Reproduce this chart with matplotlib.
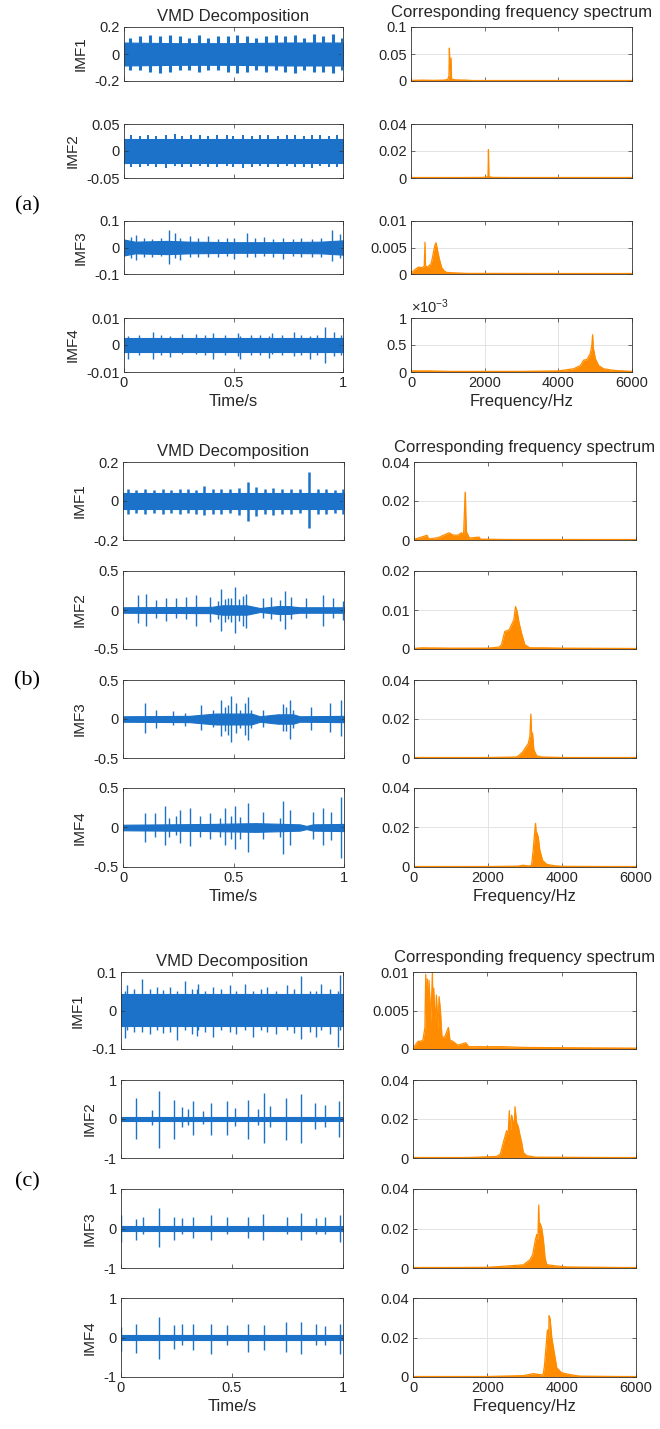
import numpy as np
import matplotlib
matplotlib.use("Agg")
import matplotlib.pyplot as plt

plt.rcParams['font.family'] = ['Liberation Sans', 'DejaVu Sans']
plt.rcParams['mathtext.fontset'] = 'custom'
plt.rcParams['mathtext.rm'] = 'Liberation Sans'
plt.rcParams['mathtext.it'] = 'Liberation Sans:italic'

# ---------------- time-domain data (band envelope + spikes) ----------------
# (a)
a1_band_t = [0, 0.25, 0.5, 0.75, 1]
a1_band_up = [0.085, 0.08, 0.08, 0.085, 0.085]
a1_band_lo = [-0.085, -0.08, -0.08, -0.085, -0.085]
a1_spk_t = [0.029, 0.072, 0.118, 0.163, 0.209, 0.255, 0.298, 0.344, 0.385, 0.431, 0.473, 0.518,
            0.560, 0.603, 0.647, 0.692, 0.736, 0.782, 0.823, 0.866, 0.908, 0.953, 0.995]
a1_spk_up = [0.12, 0.13, 0.14, 0.13, 0.14, 0.13, 0.12, 0.14, 0.12, 0.13, 0.13, 0.14,
             0.13, 0.12, 0.13, 0.14, 0.13, 0.14, 0.12, 0.15, 0.13, 0.15, 0.12]
a1_spk_lo = [-0.12, -0.12, -0.13, -0.14, -0.13, -0.12, -0.12, -0.13, -0.12, -0.12, -0.13, -0.14,
             -0.13, -0.12, -0.13, -0.12, -0.13, -0.14, -0.12, -0.13, -0.13, -0.14, -0.12]

a2_band_t = [0, 1]
a2_band_up = [0.023, 0.023]
a2_band_lo = [-0.023, -0.023]
a2_spk_t = [0.034, 0.072, 0.110, 0.148, 0.194, 0.232, 0.263, 0.308, 0.347, 0.385, 0.423, 0.469, 0.499,
            0.545, 0.583, 0.621, 0.659, 0.705, 0.743, 0.781, 0.820, 0.858, 0.896, 0.934, 0.973]
a2_spk_up = [0.029, 0.028, 0.030, 0.028, 0.029, 0.031, 0.028, 0.029, 0.030, 0.028, 0.029, 0.030, 0.028,
             0.029, 0.028, 0.030, 0.029, 0.028, 0.030, 0.029, 0.028, 0.030, 0.029, 0.028, 0.029]
a2_spk_lo = [-0.029, -0.030, -0.028, -0.029, -0.031, -0.028, -0.029, -0.030, -0.028, -0.029, -0.030, -0.028, -0.029,
             -0.031, -0.029, -0.028, -0.030, -0.029, -0.028, -0.030, -0.029, -0.031, -0.028, -0.029, -0.030]

a3_band_t = [0, 0.05, 0.2, 0.3, 0.5, 0.7, 0.9, 1]
a3_band_up = [0.03, 0.022, 0.025, 0.022, 0.02, 0.02, 0.022, 0.027]
a3_band_lo = [-0.03, -0.022, -0.025, -0.022, -0.02, -0.02, -0.022, -0.027]
a3_spk_t = [0.03, 0.056, 0.09, 0.13, 0.17, 0.206, 0.232, 0.255, 0.30, 0.34, 0.385, 0.43, 0.47, 0.50,
            0.56, 0.60, 0.64, 0.68, 0.728, 0.77, 0.81, 0.86, 0.90, 0.95, 0.988]
a3_spk_up = [0.04, 0.047, 0.035, 0.032, 0.036, 0.066, 0.054, 0.035, 0.045, 0.034, 0.044, 0.033, 0.036, 0.035,
             0.054, 0.036, 0.038, 0.033, 0.035, 0.032, 0.035, 0.033, 0.036, 0.066, 0.05]
a3_spk_lo = [-0.038, -0.049, -0.034, -0.035, -0.032, -0.061, -0.04, -0.047, -0.035, -0.036, -0.035, -0.034, -0.033, -0.043,
             -0.035, -0.034, -0.033, -0.036, -0.043, -0.033, -0.036, -0.035, -0.034, -0.052, -0.04]

a4_band_t = [0, 0.5, 1]
a4_band_up = [0.0027, 0.0027, 0.0027]
a4_band_lo = [-0.0027, -0.0027, -0.0027]
a4_spk_t = [0.02, 0.07, 0.133, 0.17, 0.209, 0.263, 0.331, 0.37, 0.408, 0.46, 0.522, 0.53, 0.58, 0.62,
            0.66, 0.675, 0.72, 0.774, 0.81, 0.85, 0.88, 0.919, 0.957, 0.99]
a4_spk_up = [0.0035, 0.0036, 0.0048, 0.0037, 0.0035, 0.0042, 0.0042, 0.0036, 0.0044, 0.0036, 0.0044, 0.0035,
             0.0037, 0.0038, 0.0035, 0.0044, 0.0036, 0.0048, 0.0037, 0.0035, 0.0038, 0.0067, 0.0048, 0.0036]
a4_spk_lo = [-0.005, -0.0037, -0.005, -0.0036, -0.0045, -0.0035, -0.0035, -0.0038, -0.005, -0.0036, -0.004, -0.005,
             -0.0037, -0.0036, -0.0048, -0.0035, -0.0038, -0.004, -0.0036, -0.005, -0.0037, -0.0067, -0.004, -0.0037]

# (b)
b1_band_t = [0, 1]
b1_band_up = [0.04, 0.04]
b1_band_lo = [-0.043, -0.043]
b1_spk_t = [0.023, 0.060, 0.101, 0.140, 0.181, 0.219, 0.256, 0.294, 0.332, 0.365, 0.407, 0.445, 0.483,
            0.525, 0.566, 0.603, 0.641, 0.679, 0.721, 0.762, 0.799, 0.842, 0.882, 0.920, 0.958, 0.995]
b1_spk_up = [0.06, 0.058, 0.062, 0.058, 0.06, 0.058, 0.06, 0.062, 0.058, 0.075, 0.06, 0.062, 0.06,
             0.065, 0.095, 0.07, 0.06, 0.065, 0.06, 0.062, 0.06, 0.147, 0.06, 0.062, 0.058, 0.06]
b1_spk_lo = [-0.065, -0.062, -0.066, -0.064, -0.065, -0.062, -0.066, -0.064, -0.065, -0.07, -0.065, -0.066, -0.064,
             -0.07, -0.105, -0.075, -0.066, -0.07, -0.065, -0.066, -0.064, -0.14, -0.066, -0.065, -0.064, -0.066]

b2_band_t = [0, 0.40, 0.45, 0.56, 0.62, 0.7, 0.75, 0.8, 1]
b2_band_up = [0.035, 0.04, 0.06, 0.06, 0.025, 0.05, 0.05, 0.035, 0.035]
b2_band_lo = [-0.035, -0.04, -0.06, -0.06, -0.025, -0.05, -0.05, -0.035, -0.035]
b2_spk_t = [0.068, 0.106, 0.151, 0.196, 0.241, 0.287, 0.332, 0.392, 0.43, 0.445, 0.46, 0.475, 0.49, 0.508,
            0.525, 0.545, 0.558, 0.633, 0.671, 0.71, 0.732, 0.762, 0.830, 0.905, 0.950, 0.995]
b2_spk_up = [0.19, 0.21, 0.13, 0.15, 0.15, 0.17, 0.19, 0.17, 0.12, 0.27, 0.14, 0.15, 0.16, 0.30,
             0.14, 0.18, 0.21, 0.15, 0.17, 0.13, 0.24, 0.17, 0.15, 0.19, 0.15, 0.12]
b2_spk_lo = [-0.17, -0.21, -0.10, -0.14, -0.10, -0.12, -0.21, -0.15, -0.12, -0.27, -0.15, -0.12, -0.16, -0.30,
             -0.14, -0.2, -0.23, -0.10, -0.12, -0.14, -0.24, -0.12, -0.10, -0.21, -0.10, -0.13]

b3_band_t = [0, 0.3, 0.42, 0.58, 0.62, 0.7, 0.77, 0.8, 1]
b3_band_up = [0.035, 0.04, 0.07, 0.07, 0.035, 0.06, 0.06, 0.035, 0.04]
b3_band_lo = [-0.035, -0.04, -0.07, -0.07, -0.035, -0.06, -0.06, -0.035, -0.04]
b3_spk_t = [0.098, 0.151, 0.226, 0.279, 0.354, 0.407, 0.445, 0.46, 0.475, 0.490, 0.51, 0.53, 0.55, 0.566,
            0.58, 0.633, 0.724, 0.738, 0.754, 0.768, 0.852, 0.935, 0.988]
b3_spk_up = [0.20, 0.12, 0.10, 0.08, 0.18, 0.12, 0.245, 0.15, 0.18, 0.29, 0.2, 0.12, 0.2, 0.28,
             0.12, 0.12, 0.19, 0.15, 0.25, 0.12, 0.15, 0.20, 0.24]
b3_spk_lo = [-0.18, -0.12, -0.08, -0.09, -0.14, -0.10, -0.22, -0.15, -0.2, -0.29, -0.18, -0.12, -0.2, -0.27,
             -0.12, -0.10, -0.16, -0.15, -0.26, -0.12, -0.14, -0.17, -0.22]

b4_band_t = [0, 0.4, 0.6, 0.8, 0.83, 0.86, 1]
b4_band_up = [0.035, 0.045, 0.055, 0.04, 0.02, 0.04, 0.045]
b4_band_lo = [-0.035, -0.045, -0.055, -0.04, -0.02, -0.04, -0.045]
b4_spk_t = [0.098, 0.143, 0.189, 0.21, 0.241, 0.256, 0.302, 0.347, 0.392, 0.44, 0.460, 0.49, 0.508, 0.53, 0.566,
            0.633, 0.71, 0.724, 0.754, 0.860, 0.905, 0.943, 0.985]
b4_spk_up = [0.18, 0.18, 0.27, 0.12, 0.14, 0.22, 0.25, 0.14, 0.18, 0.12, 0.245, 0.15, 0.27, 0.13, 0.31,
             0.2, 0.12, 0.34, 0.22, 0.2, 0.245, 0.2, 0.39]
b4_spk_lo = [-0.18, -0.12, -0.22, -0.12, -0.10, -0.20, -0.24, -0.12, -0.14, -0.12, -0.22, -0.15, -0.27, -0.14, -0.31,
             -0.14, -0.12, -0.34, -0.22, -0.14, -0.22, -0.16, -0.385]

# (c)
c1_band_t = [0, 1]
c1_band_up = [0.042, 0.042]
c1_band_lo = [-0.04, -0.04]
c1_spk_t = [0.019, 0.027, 0.06, 0.094, 0.132, 0.162, 0.19, 0.222, 0.251, 0.289, 0.32, 0.341, 0.349, 0.38, 0.416,
            0.45, 0.491, 0.52, 0.558, 0.596, 0.63, 0.656, 0.700, 0.746, 0.78, 0.813, 0.85, 0.880, 0.903, 0.94,
            0.978, 0.985]
c1_spk_up = [0.05, 0.065, 0.055, 0.083, 0.055, 0.06, 0.052, 0.06, 0.05, 0.077, 0.055, 0.055, 0.07, 0.05, 0.06,
             0.055, 0.065, 0.05, 0.07, 0.05, 0.055, 0.06, 0.05, 0.065, 0.055, 0.089, 0.05, 0.05, 0.07, 0.055,
             0.05, 0.091]
c1_spk_lo = [-0.072, -0.05, -0.055, -0.055, -0.06, -0.05, -0.058, -0.055, -0.077, -0.05, -0.06, -0.065, -0.05,
             -0.055, -0.068, -0.05, -0.055, -0.06, -0.05, -0.07, -0.05, -0.055, -0.06, -0.05, -0.058, -0.075,
             -0.055, -0.07, -0.05, -0.06, -0.094, -0.05]

c2_band_t = [0, 1]
c2_band_up = [0.06, 0.06]
c2_band_lo = [-0.06, -0.06]
c2_spk_t = [0.069, 0.139, 0.169, 0.237, 0.274, 0.304, 0.326, 0.371, 0.404, 0.476, 0.513, 0.573,
            0.618, 0.644, 0.671, 0.743, 0.813, 0.873, 0.918, 0.982]
c2_spk_up = [0.53, 0.23, 0.73, 0.49, 0.32, 0.25, 0.45, 0.2, 0.42, 0.45, 0.28, 0.49,
             0.25, 0.66, 0.34, 0.53, 0.64, 0.4, 0.36, 0.45]
c2_spk_lo = [-0.51, -0.15, -0.74, -0.51, -0.2, -0.15, -0.4, -0.12, -0.40, -0.42, -0.18, -0.51,
             -0.15, -0.62, -0.2, -0.55, -0.62, -0.25, -0.2, -0.45]

c3_band_t = [0, 1]
c3_band_up = [0.06, 0.06]
c3_band_lo = [-0.06, -0.06]
c3_spk_t = [0.0, 0.069, 0.099, 0.169, 0.237, 0.274, 0.323, 0.404, 0.476, 0.573, 0.641, 0.746,
            0.813, 0.877, 0.918, 0.985]
c3_spk_up = [0.34, 0.24, 0.30, 0.53, 0.30, 0.26, 0.30, 0.34, 0.30, 0.30, 0.37, 0.30,
             0.39, 0.26, 0.30, 0.34]
c3_spk_lo = [-0.33, -0.28, -0.15, -0.47, -0.28, -0.15, -0.25, -0.28, -0.15, -0.25, -0.28, -0.15,
             -0.28, -0.15, -0.15, -0.33]

c4_band_t = [0, 1]
c4_band_up = [0.07, 0.07]
c4_band_lo = [-0.07, -0.07]
c4_spk_t = [0.0, 0.069, 0.169, 0.237, 0.274, 0.326, 0.404, 0.476, 0.573, 0.644, 0.743, 0.813,
            0.877, 0.918, 0.985]
c4_spk_up = [0.27, 0.33, 0.52, 0.31, 0.35, 0.33, 0.35, 0.31, 0.35, 0.31, 0.39, 0.39, 0.35, 0.28, 0.33]
c4_spk_lo = [-0.33, -0.39, -0.54, -0.28, -0.2, -0.32, -0.41, -0.2, -0.37, -0.32, -0.37, -0.41, -0.2, -0.2, -0.41]

# ---------------- spectra (frequency in Hz, amplitude) ----------------
a1_f = [0, 300, 600, 900, 1000, 1030, 1042, 1060, 1088, 1100, 1200, 1500, 1700, 2000, 6000]
a1_A = [0.001, 0.0015, 0.001, 0.0015, 0.003, 0.01, 0.061, 0.02, 0.0425, 0.004, 0.002, 0.0015, 0.0005, 0.0003, 0.0002]
a2_f = [0, 1000, 2000, 2090, 2103, 2115, 2200, 3000, 6000]
a2_A = [0.0002, 0.0002, 0.0004, 0.001, 0.021, 0.001, 0.0004, 0.0002, 0.0001]
a3_f = [0, 100, 200, 300, 360, 380, 395, 450, 550, 607, 650, 680, 720, 770, 834, 900, 970, 1200, 1500, 6000]
a3_A = [0.0001, 0.0008, 0.0013, 0.0012, 0.0015, 0.006, 0.0015, 0.0013, 0.002, 0.004, 0.0055, 0.0059,
        0.0045, 0.0028, 0.0012, 0.0006, 0.0003, 0.0002, 0.0001, 0.00005]
a4_f = [0, 500, 1000, 2000, 3000, 4000, 4414, 4600, 4686, 4776, 4867, 4910, 4930, 4950, 5003, 5094, 5230, 5502, 6000]
a4_A = [0.02e-3, 0.02e-3, 0.01e-3, 0.01e-3, 0.01e-3, 0.02e-3, 0.06e-3, 0.12e-3, 0.22e-3, 0.23e-3, 0.34e-3,
        0.5e-3, 0.69e-3, 0.45e-3, 0.25e-3, 0.12e-3, 0.06e-3, 0.03e-3, 0.01e-3]

b1_f = [0, 352, 400, 650, 947, 1056, 1191, 1281, 1340, 1375, 1389, 1400, 1420, 1500, 1759, 1800, 2500, 6000]
b1_A = [0.0003, 0.0024, 0.0005, 0.0012, 0.0037, 0.0025, 0.0025, 0.0037, 0.003, 0.02, 0.0245, 0.013,
        0.004, 0.001, 0.0015, 0.0004, 0.0002, 0.0001]
b2_f = [0, 200, 1000, 2000, 2300, 2364, 2454, 2571, 2635, 2698, 2743, 2788, 2842, 2905, 2995, 3131, 3500, 4000, 6000]
b2_A = [0.0001, 0.0003, 0.0002, 0.0002, 0.0005, 0.0011, 0.0045, 0.0049, 0.0062, 0.0075, 0.0109, 0.0096,
        0.0066, 0.0041, 0.0011, 0.0003, 0.0003, 0.0002, 0.0001]
b3_f = [0, 2000, 2600, 2770, 2860, 2950, 3023, 3086, 3131, 3158, 3180, 3203, 3239, 3311, 3447, 4000, 6000]
b3_A = [0.0001, 0.0002, 0.0004, 0.0005, 0.0017, 0.0034, 0.0056, 0.0073, 0.011, 0.0225, 0.012, 0.0128,
        0.0043, 0.0012, 0.0005, 0.0002, 0.0001]
b4_f = [0, 2000, 2800, 2950, 3100, 3176, 3221, 3266, 3284, 3300, 3329, 3356, 3401, 3474, 3582, 3762, 4000, 6000]
b4_A = [0.0001, 0.0002, 0.0004, 0.0009, 0.0005, 0.0008, 0.0085, 0.0187, 0.0221, 0.018, 0.017, 0.0153,
        0.0085, 0.0034, 0.0014, 0.0007, 0.0003, 0.0001]

c1_f = [0, 135, 200, 270, 320, 342, 365, 387, 410, 432, 480, 522, 540, 558, 600, 630, 670, 702, 738, 780,
        855, 953, 1000, 1034, 1124, 1200, 1421, 1500, 2429, 3000, 6000]
c1_A = [0.0001, 0.001, 0.001, 0.0012, 0.0028, 0.0097, 0.004, 0.0091, 0.003, 0.0089, 0.0035, 0.01, 0.004,
        0.0079, 0.003, 0.007, 0.0025, 0.0068, 0.005, 0.0015, 0.0016, 0.0028, 0.0009, 0.0011, 0.0008,
        0.0005, 0.0008, 0.0003, 0.0003, 0.0002, 0.0001]
c2_f = [0, 1500, 2249, 2350, 2429, 2474, 2519, 2560, 2591, 2620, 2654, 2699, 2720, 2744, 2789, 2834, 2879,
        2924, 2969, 3058, 3300, 6000]
c2_A = [0.0001, 0.0002, 0.0008, 0.002, 0.0079, 0.011, 0.014, 0.012, 0.0243, 0.013, 0.022, 0.018, 0.014,
        0.0263, 0.018, 0.016, 0.0116, 0.008, 0.0028, 0.0012, 0.0004, 0.0001]
c3_f = [0, 2000, 2969, 3148, 3220, 3283, 3328, 3360, 3382, 3400, 3418, 3463, 3508, 3553, 3598, 3778, 4138, 6000]
c3_A = [0.0001, 0.0003, 0.0016, 0.0042, 0.0067, 0.0134, 0.017, 0.014, 0.0319, 0.018, 0.0227, 0.0202,
        0.0143, 0.005, 0.0017, 0.0012, 0.0005, 0.0001]
c4_f = [0, 2000, 2968, 3238, 3500, 3535, 3580, 3616, 3650, 3661, 3688, 3733, 3796, 3868, 4003, 4228, 4500, 6000]
c4_A = [0.0001, 0.0002, 0.0007, 0.0017, 0.001, 0.0054, 0.0154, 0.0238, 0.02, 0.031, 0.0296, 0.02,
        0.0129, 0.0046, 0.0021, 0.0012, 0.0004, 0.0001]

# ---------------- axis limits and tick labels ----------------
imf_names = ["IMF1", "IMF2", "IMF3", "IMF4"]
group_labels = ["(a)", "(b)", "(c)"]
left_title = "VMD Decomposition"
right_title = "Corresponding frequency spectrum"
time_ticks = [0, 0.5, 1]
time_ticklabels = ["0", "0.5", "1"]
freq_ticks = [0, 2000, 4000, 6000]
freq_ticklabels = ["0", "2000", "4000", "6000"]

left_lims = [[0.2, 0.05, 0.1, 0.01], [0.2, 0.5, 0.5, 0.5], [0.1, 1, 1, 1]]
left_ticklabels = [[["-0.2", "0", "0.2"], ["-0.05", "0", "0.05"], ["-0.1", "0", "0.1"], ["-0.01", "0", "0.01"]],
                   [["-0.2", "0", "0.2"], ["-0.5", "0", "0.5"], ["-0.5", "0", "0.5"], ["-0.5", "0", "0.5"]],
                   [["-0.1", "0", "0.1"], ["-1", "0", "1"], ["-1", "0", "1"], ["-1", "0", "1"]]]
right_lims = [[0.1, 0.04, 0.01, 0.001], [0.04, 0.02, 0.04, 0.04], [0.01, 0.04, 0.04, 0.04]]
right_ticklabels = [[["0", "0.05", "0.1"], ["0", "0.02", "0.04"], ["0", "0.005", "0.01"], ["0", "0.5", "1"]],
                    [["0", "0.02", "0.04"], ["0", "0.01", "0.02"], ["0", "0.02", "0.04"], ["0", "0.02", "0.04"]],
                    [["0", "0.005", "0.01"], ["0", "0.02", "0.04"], ["0", "0.02", "0.04"], ["0", "0.02", "0.04"]]]

time_data = [
    [(a1_band_t, a1_band_up, a1_band_lo, a1_spk_t, a1_spk_up, a1_spk_lo),
     (a2_band_t, a2_band_up, a2_band_lo, a2_spk_t, a2_spk_up, a2_spk_lo),
     (a3_band_t, a3_band_up, a3_band_lo, a3_spk_t, a3_spk_up, a3_spk_lo),
     (a4_band_t, a4_band_up, a4_band_lo, a4_spk_t, a4_spk_up, a4_spk_lo)],
    [(b1_band_t, b1_band_up, b1_band_lo, b1_spk_t, b1_spk_up, b1_spk_lo),
     (b2_band_t, b2_band_up, b2_band_lo, b2_spk_t, b2_spk_up, b2_spk_lo),
     (b3_band_t, b3_band_up, b3_band_lo, b3_spk_t, b3_spk_up, b3_spk_lo),
     (b4_band_t, b4_band_up, b4_band_lo, b4_spk_t, b4_spk_up, b4_spk_lo)],
    [(c1_band_t, c1_band_up, c1_band_lo, c1_spk_t, c1_spk_up, c1_spk_lo),
     (c2_band_t, c2_band_up, c2_band_lo, c2_spk_t, c2_spk_up, c2_spk_lo),
     (c3_band_t, c3_band_up, c3_band_lo, c3_spk_t, c3_spk_up, c3_spk_lo),
     (c4_band_t, c4_band_up, c4_band_lo, c4_spk_t, c4_spk_up, c4_spk_lo)],
]
spec_data = [
    [(a1_f, a1_A), (a2_f, a2_A), (a3_f, a3_A), (a4_f, a4_A)],
    [(b1_f, b1_A), (b2_f, b2_A), (b3_f, b3_A), (b4_f, b4_A)],
    [(c1_f, c1_A), (c2_f, c2_A), (c3_f, c3_A), (c4_f, c4_A)],
]

# ---------------- layout (pixels) ----------------
W, H = 660, 1429
left_x = [(124, 343), (123, 344), (121, 343)]
right_x = [(411, 632), (414, 636), (413, 636)]
rows = [[(27, 81), (124, 178), (221, 274), (318, 372)],
        [(462, 540), (571, 649), (680, 758), (788, 867)],
        [(972, 1049), (1080, 1158), (1189, 1268), (1298, 1377)]]
group_label_y = [206, 681, 1182]
spike_lw = [[2.2, 1.4, 1.0, 1.0], [1.8, 1.0, 1.0, 1.0], [1.0, 1.0, 1.0, 1.0]]

BLUE = '#1b72c8'
ORANGE = '#ff8c00'
SPINE = '#333333'
TXT = '#262626'
GRID = '#e3e3e3'

fig = plt.figure(figsize=(W / 100, H / 100), dpi=100)


def make_ax(x0, x1, y0, y1):
    return fig.add_axes([x0 / W, 1 - y1 / H, (x1 - x0) / W, (y1 - y0) / H])


def style(ax):
    for s in ax.spines.values():
        s.set_color(SPINE)
        s.set_linewidth(0.6)
    ax.tick_params(direction='in', length=3, width=0.5, colors=SPINE, labelcolor=TXT,
                   labelsize=10.5, top=True, right=True, pad=3)


for g in range(3):
    for r in range(4):
        y0, y1 = rows[g][r]
        # ---- left: time signal ----
        ax = make_ax(left_x[g][0], left_x[g][1], y0, y1)
        style(ax)
        bt, bu, bl, st, su, sl = time_data[g][r]
        ax.fill_between(bt, bl, bu, color=BLUE, lw=0.8, edgecolor=BLUE)
        ax.vlines(st, sl, su, color=BLUE, lw=spike_lw[g][r])
        lim = left_lims[g][r]
        ax.set_xlim(0, 1)
        ax.set_ylim(-lim, lim)
        ax.set_yticks([-lim, 0, lim])
        ax.set_yticklabels(left_ticklabels[g][r])
        ax.set_xticks(time_ticks)
        ax.set_ylabel(imf_names[r], fontsize=11, color=TXT, labelpad=5)
        if r == 3:
            ax.set_xticklabels(time_ticklabels)
            ax.set_xlabel("Time/s", fontsize=12, color=TXT, labelpad=3)
        else:
            ax.set_xticklabels([])
        if r == 0:
            ax.set_title(left_title, fontsize=12, color=TXT, pad=4)

        # ---- right: spectrum ----
        ax2 = make_ax(right_x[g][0], right_x[g][1], y0, y1)
        style(ax2)
        f, A = spec_data[g][r]
        ax2.fill_between(f, 0, A, color=ORANGE, lw=0)
        ax2.plot(f, A, color=ORANGE, lw=0.9)
        ax2.plot([0, 6000], [0, 0], color=ORANGE, lw=1.6)
        rl = right_lims[g][r]
        ax2.set_xlim(0, 6000)
        ax2.set_ylim(0, rl)
        ax2.set_yticks([0, rl / 2, rl])
        ax2.set_yticklabels(right_ticklabels[g][r])
        ax2.set_xticks(freq_ticks)
        ax2.grid(True, axis='y', color=GRID, lw=0.7)
        ax2.set_axisbelow(True)
        if r == 3:
            ax2.grid(True, axis='x', color=GRID, lw=0.7)
            ax2.set_xticklabels(freq_ticklabels)
            ax2.set_xlabel("Frequency/Hz", fontsize=12, color=TXT, labelpad=3)
        else:
            ax2.set_xticklabels([])
        if r == 0:
            ax2.set_title(right_title, fontsize=12, color=TXT, pad=7)
        if g == 0 and r == 3:
            ax2.text(0.0, 1.03, r'$\times10^{-3}$', transform=ax2.transAxes,
                     ha='left', va='bottom', fontsize=10.5, color=TXT)

    fig.text(27 / W, 1 - group_label_y[g] / H, group_labels[g], family=['Liberation Serif', 'DejaVu Serif'],
             fontsize=16, ha='center', va='center', color='black')

fig.savefig("out.png", dpi=100)
